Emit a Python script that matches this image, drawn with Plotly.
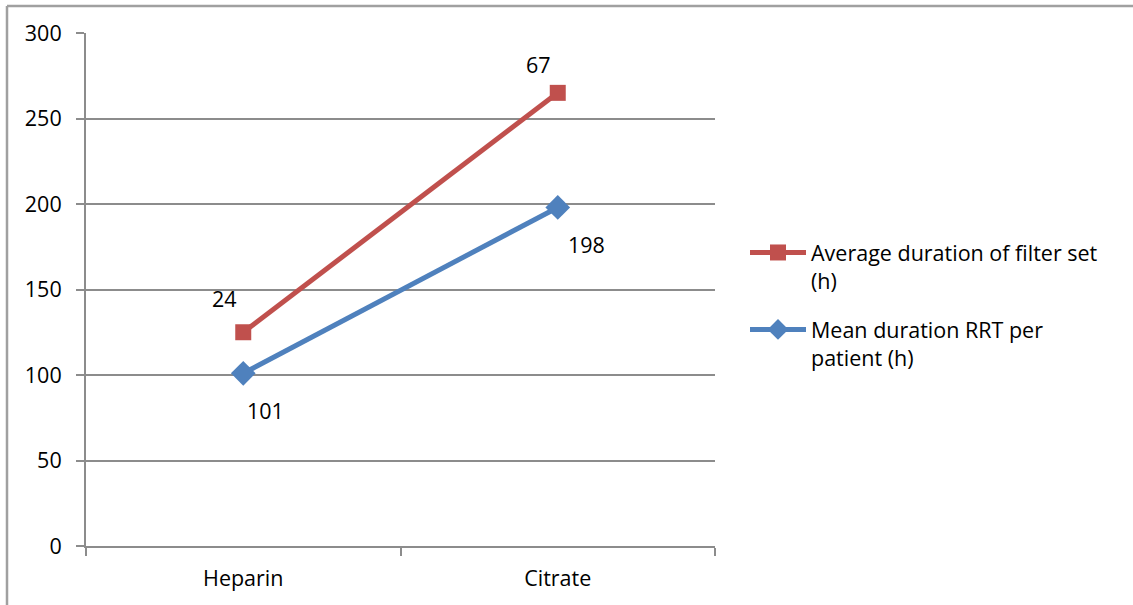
import plotly.graph_objects as go

categories = ["Heparin", "Citrate"]
filter_set_values = [125, 265]
filter_set_labels = ["24", "67"]
rrt_values = [101, 198]
rrt_labels = ["101", "198"]
series_names = ["Average duration of filter set<br>(h)", "Mean duration RRT per<br>patient (h)"]
y_ticks = [0, 50, 100, 150, 200, 250, 300]

RED = "#C0504D"
BLUE = "#4F81BD"
GRID = "#8C8C8C"
FONT = "Open Sans"
FS = 21.5

fig = go.Figure()
fig.add_trace(go.Scatter(
    x=categories, y=filter_set_values, mode="lines+markers",
    name=series_names[0], legendgroup="a",
    line=dict(color=RED, width=5),
    marker=dict(symbol="square", size=16, color=RED),
))
fig.add_trace(go.Scatter(
    x=categories, y=rrt_values, mode="lines+markers",
    name=series_names[1], legendgroup="b",
    line=dict(color=BLUE, width=5),
    marker=dict(symbol="diamond", size=19, color=BLUE),
))

# data label offsets (pixels) relative to each point
red_shift = [(-19, 34), (-19, 28)]
blue_shift = [(22, -37), (29, -37)]
for cat, val, lab, (dx, dy) in zip(categories, filter_set_values, filter_set_labels, red_shift):
    fig.add_annotation(x=cat, y=val, text=lab, showarrow=False, xshift=dx, yshift=dy,
                       font=dict(family=FONT, size=FS, color="black"))
for cat, val, lab, (dx, dy) in zip(categories, rrt_values, rrt_labels, blue_shift):
    fig.add_annotation(x=cat, y=val, text=lab, showarrow=False, xshift=dx, yshift=dy,
                       font=dict(family=FONT, size=FS, color="black"))

L, R, T, B = 86, 418, 33, 59
W, H = 1133, 605
pw, ph = W - L - R, H - T - B
# chart border (top and left edges) in paper coords
x_left = (7 - L) / pw
y_top = 1 + (T - 6) / ph
y_bot = -(B + 5) / ph
x_right = (W + 5 - L) / pw
fig.add_shape(type="line", xref="paper", yref="paper", x0=x_left, x1=x_right, y0=y_top, y1=y_top,
              line=dict(color="#A0A0A0", width=2.5))
fig.add_shape(type="line", xref="paper", yref="paper", x0=x_left, x1=x_left, y0=y_top, y1=y_bot,
              line=dict(color="#A0A0A0", width=2.5))

fig.update_layout(
    width=W, height=H,
    margin=dict(l=L, r=R, t=T, b=B),
    paper_bgcolor="white", plot_bgcolor="white",
    font=dict(family=FONT, size=FS, color="black"),
    showlegend=True,
    legend=dict(x=(745 - L) / pw, y=(546 - 232) / ph, xanchor="left", yanchor="top",
                traceorder="grouped", valign="top", itemwidth=56, tracegroupgap=18,
                font=dict(family=FONT, size=FS, color="black"), bgcolor="rgba(0,0,0,0)"),
    xaxis=dict(type="category", range=[-0.5, 1.5], showgrid=False, showline=True,
               linecolor=GRID, linewidth=2, ticks="outside", tickson="boundaries",
               ticklen=8, tickcolor=GRID, tickwidth=2, ticklabelstandoff=12, zeroline=False),
    yaxis=dict(range=[0, 300], tickvals=y_ticks, showgrid=True, gridcolor=GRID, gridwidth=2,
               showline=True, linecolor=GRID, linewidth=2, ticks="outside", ticklen=8,
               tickcolor=GRID, tickwidth=2, ticklabelstandoff=10, zeroline=False),
)

fig.write_html("out.html", config={"displayModeBar": False},
               post_script="document.body.style.margin='0';")
